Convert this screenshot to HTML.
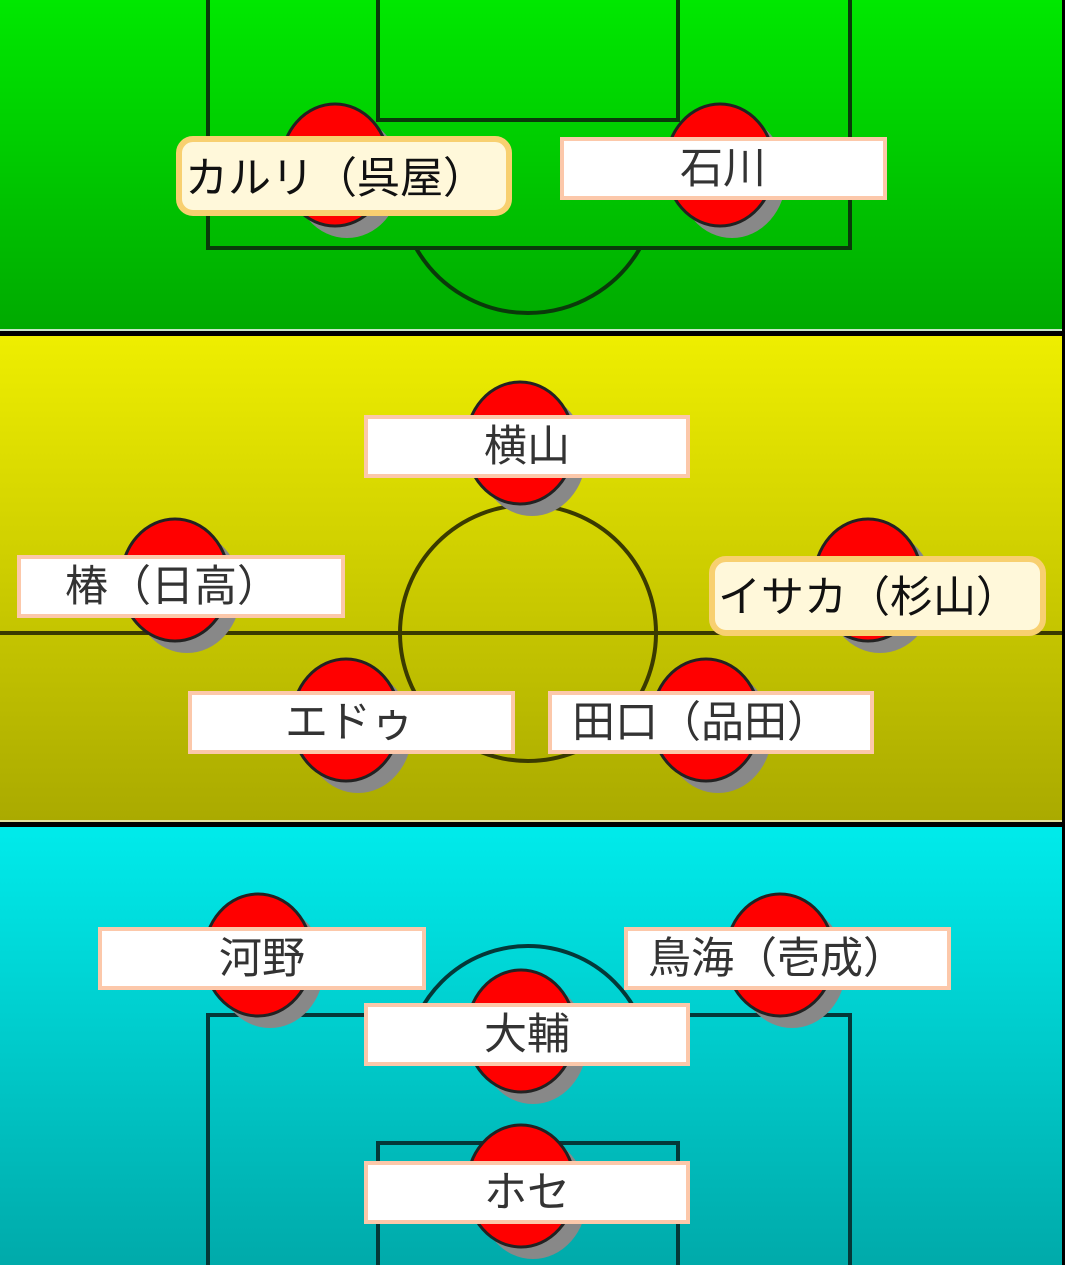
<!DOCTYPE html>
<html><head><meta charset="utf-8"><style>
html,body{margin:0;padding:0;background:#000}
svg{display:block}
text{font-family:"Liberation Sans","Noto Sans CJK JP",sans-serif;font-size:43px}
</style></head><body>
<svg width="1065" height="1265" viewBox="0 0 1065 1265" xmlns="http://www.w3.org/2000/svg">
<defs>
<linearGradient id="g" x1="0" y1="0" x2="0" y2="1"><stop offset="0" stop-color="#00e800"/><stop offset="1" stop-color="#00aa00"/></linearGradient>
<linearGradient id="y" x1="0" y1="0" x2="0" y2="1"><stop offset="0" stop-color="#eeee00"/><stop offset="1" stop-color="#aaaa00"/></linearGradient>
<linearGradient id="c" x1="0" y1="0" x2="0" y2="1"><stop offset="0" stop-color="#00ebeb"/><stop offset="1" stop-color="#00aaaa"/></linearGradient>
<clipPath id="cg"><rect x="0" y="0" width="1062" height="329"/></clipPath>
<clipPath id="cy"><rect x="0" y="336" width="1062" height="485"/></clipPath>
<clipPath id="cc"><rect x="0" y="827" width="1062" height="438"/></clipPath>
<clipPath id="above"><rect x="0" y="827" width="1065" height="186"/></clipPath>
</defs>
<rect x="0" y="0" width="1062" height="329" fill="url(#g)"/>
<rect x="0" y="329" width="1062" height="2" fill="#c8e8c8"/>
<rect x="0" y="336" width="1062" height="485" fill="url(#y)"/>
<rect x="0" y="820" width="1062" height="2" fill="#e0e0a0"/>
<rect x="0" y="827" width="1062" height="438" fill="url(#c)"/>

<g fill="none" stroke="#0a3a0a" stroke-width="4" clip-path="url(#cg)">
<polyline points="208,0 208,248 850,248 850,0"/>
<polyline points="378,0 378,120 678,120 678,0"/>
<path d="M416,248 A129,129 0 0 0 640,248"/>
</g>
<g fill="none" stroke="#3a3a00" stroke-width="4" clip-path="url(#cy)">
<line x1="0" y1="633" x2="1062" y2="633"/>
<circle cx="528" cy="633" r="128"/>
</g>
<g fill="none" stroke="#043838" stroke-width="4" clip-path="url(#cc)">
<polyline points="208,1265 208,1015 850,1015 850,1265"/>
<polyline points="378,1265 378,1143 678,1143 678,1265"/>
<circle cx="528" cy="1068" r="122" clip-path="url(#above)"/>
</g>

<g stroke="#222" stroke-width="3">
<!-- players: shadow then red -->
<g id="p">
</g>
</g>
<g>
<ellipse cx="347" cy="177" rx="54" ry="61" fill="#888"/><ellipse cx="335" cy="165" rx="54" ry="61" fill="#f00" stroke="#222" stroke-width="3"/>
<ellipse cx="732" cy="177" rx="54" ry="61" fill="#888"/><ellipse cx="720" cy="165" rx="54" ry="61" fill="#f00" stroke="#222" stroke-width="3"/>
<ellipse cx="532" cy="455" rx="54" ry="61" fill="#888"/><ellipse cx="520" cy="443" rx="54" ry="61" fill="#f00" stroke="#222" stroke-width="3"/>
<ellipse cx="187" cy="592" rx="54" ry="61" fill="#888"/><ellipse cx="175" cy="580" rx="54" ry="61" fill="#f00" stroke="#222" stroke-width="3"/>
<ellipse cx="880" cy="592" rx="54" ry="61" fill="#888"/><ellipse cx="868" cy="580" rx="54" ry="61" fill="#f00" stroke="#222" stroke-width="3"/>
<ellipse cx="358" cy="732" rx="54" ry="61" fill="#888"/><ellipse cx="346" cy="720" rx="54" ry="61" fill="#f00" stroke="#222" stroke-width="3"/>
<ellipse cx="718" cy="732" rx="54" ry="61" fill="#888"/><ellipse cx="706" cy="720" rx="54" ry="61" fill="#f00" stroke="#222" stroke-width="3"/>
<ellipse cx="270" cy="967" rx="54" ry="61" fill="#888"/><ellipse cx="258" cy="955" rx="54" ry="61" fill="#f00" stroke="#222" stroke-width="3"/>
<ellipse cx="792" cy="967" rx="54" ry="61" fill="#888"/><ellipse cx="780" cy="955" rx="54" ry="61" fill="#f00" stroke="#222" stroke-width="3"/>
<ellipse cx="533" cy="1043" rx="54" ry="61" fill="#888"/><ellipse cx="521" cy="1031" rx="54" ry="61" fill="#f00" stroke="#222" stroke-width="3"/>
<ellipse cx="533" cy="1198" rx="54" ry="61" fill="#888"/><ellipse cx="521" cy="1186" rx="54" ry="61" fill="#f00" stroke="#222" stroke-width="3"/>
</g>

<g fill="#fff" stroke="#fcc8aa" stroke-width="4">
<rect x="562" y="139" width="323" height="59"/>
<rect x="366" y="417" width="322" height="59"/>
<rect x="19" y="557" width="324" height="59"/>
<rect x="190" y="693" width="323" height="59"/>
<rect x="550" y="693" width="322" height="59"/>
<rect x="100" y="929" width="324" height="59"/>
<rect x="626" y="929" width="323" height="59"/>
<rect x="366" y="1005" width="322" height="59"/>
<rect x="366" y="1163" width="322" height="59"/>
</g>
<g fill="#fff8da" stroke="#f8d070" stroke-width="6">
<rect x="179" y="139" width="330" height="74" rx="14"/>
<rect x="712" y="559" width="331" height="74" rx="14"/>
</g>

<g fill="#111">
<text x="185" y="193">カルリ（呉屋）</text>
<text x="718" y="612">イサカ（杉山）</text>
</g>
<g fill="#333">
<text x="723" y="183" text-anchor="middle">石川</text>
<text x="527" y="461" text-anchor="middle">横山</text>
<text x="65" y="601">椿（日高）</text>
<text x="285" y="737">エドゥ</text>
<text x="572" y="737">田口（品田）</text>
<text x="262" y="973" text-anchor="middle">河野</text>
<text x="648" y="973">鳥海（壱成）</text>
<text x="527" y="1049" text-anchor="middle">大輔</text>
<text x="527" y="1207" text-anchor="middle">ホセ</text>
</g>
</svg>
</body></html>
